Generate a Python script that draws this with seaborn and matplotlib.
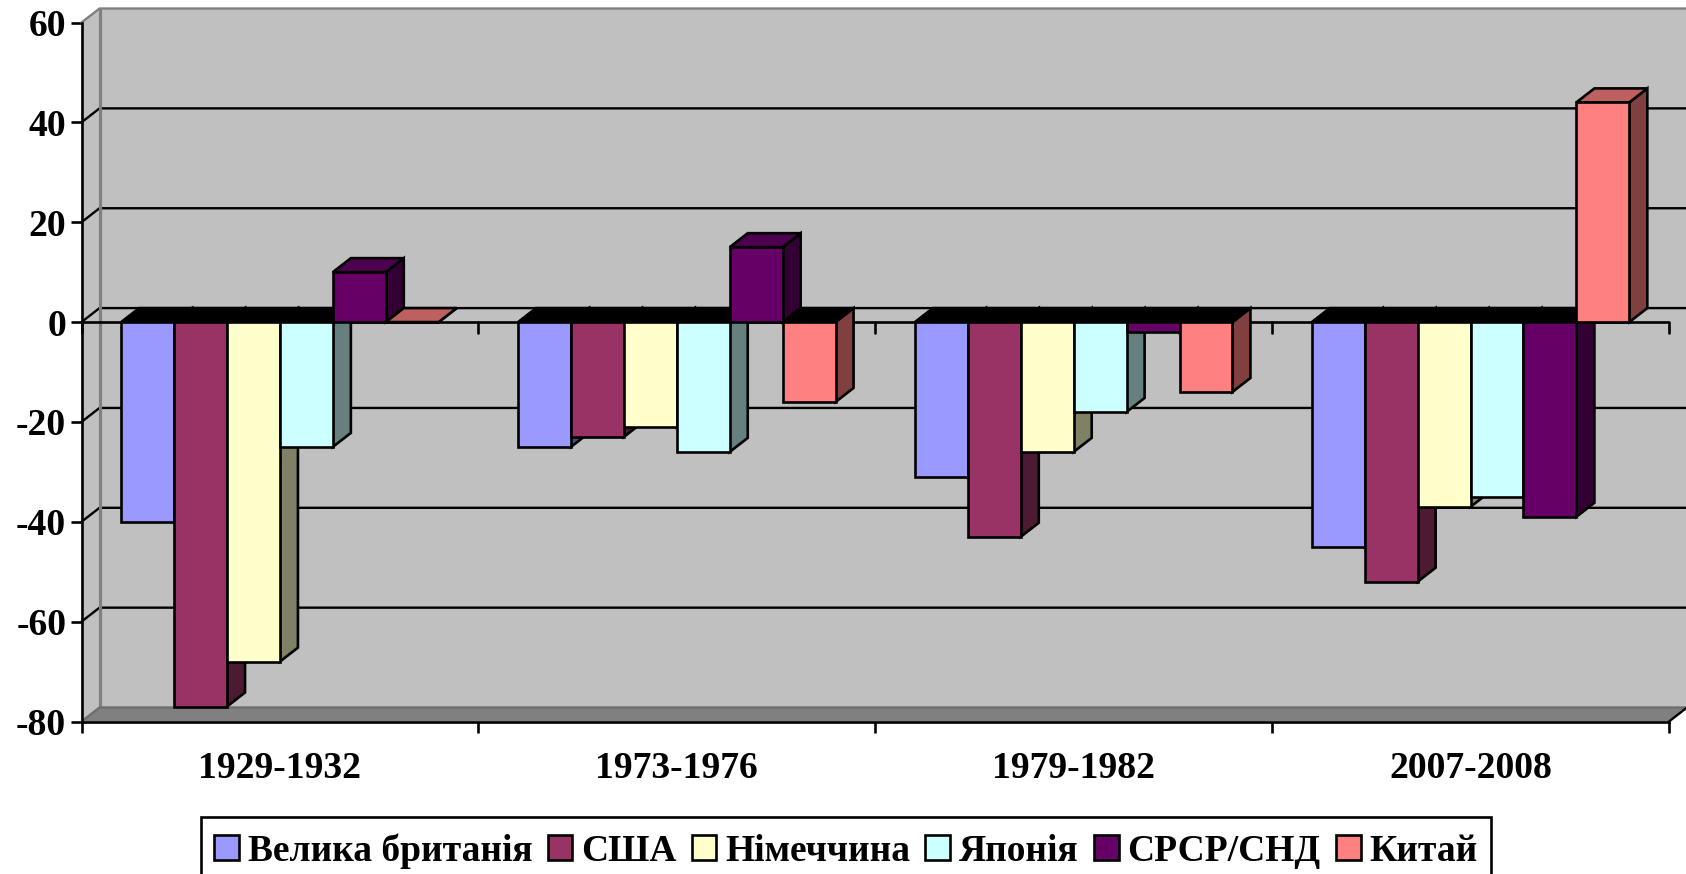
import matplotlib
matplotlib.use("Agg")
import matplotlib.pyplot as plt
import matplotlib.colors as mcolors
from matplotlib.patches import Polygon
from matplotlib.transforms import Affine2D
import pandas as pd
import seaborn as sns

periods = ['1929-1932', '1973-1976', '1979-1982', '2007-2008']
countries = ['Велика британія', 'США', 'Німеччина', 'Японія', 'СРСР/СНД', 'Китай']
uk = [-40, -25, -31, -45]
usa = [-77, -23, -43, -52]
germany = [-68, -21, -26, -37]
japan = [-25, -26, -18, -35]
ussr = [10, 15, -2, -39]
china = [0, -16, -14, 44]
colors = ['#9999FF', '#993366', '#FFFFCC', '#CCFFFF', '#660066', '#FF8080']
y_ticks = [-80, -60, -40, -20, 0, 20, 40, 60]
y_labels = ['-80', '-60', '-40', '-20', '0', '20', '40', '60']

DEPTH_X = 18 / 396.75
DEPTH_Y = 2.8
LW = 1.9
GRID_LW = 1.7
FONT = 27.1
LEGEND_FONT = 27.0
WALL = '#C0C0C0'
FLOOR = '#808080'
EDGE_GREY = '#808080'

sns.set_theme(style="white")
plt.rcParams['font.family'] = ['Liberation Serif']
plt.rcParams['font.weight'] = 'bold'
plt.rcParams['axes.unicode_minus'] = False


def shade(color, k):
    r, g, b = mcolors.to_rgb(color)
    return (r * k, g * k, b * k)


def desenhar_paredes(ax):
    x0, x1 = -0.5, 3.5
    y0, y1 = y_ticks[0], y_ticks[-1]
    d, h = DEPTH_X, DEPTH_Y
    back = Polygon([(x0 + d, y0 + h), (x1 + d, y0 + h), (x1 + d, y1 + h), (x0 + d, y1 + h)],
                   facecolor=WALL, edgecolor='none', zorder=0.5, clip_on=False)
    side = Polygon([(x0, y0), (x0 + d, y0 + h), (x0 + d, y1 + h), (x0, y1)],
                   facecolor=WALL, edgecolor='none', zorder=0.5, clip_on=False)
    floor = Polygon([(x0, y0), (x0 + d, y0 + h), (x1 + d, y0 + h), (x1, y0)],
                    facecolor=FLOOR, edgecolor='none', zorder=0.6, clip_on=False)
    for p in (back, side, floor):
        ax.add_patch(p)

    # grid on the back wall plus the diagonal on the side wall
    for v in y_ticks[1:-1]:
        ax.plot([x0, x0 + d, x1 + d], [v, v + h, v + h], color='black', lw=GRID_LW, zorder=1,
                clip_on=False, solid_joinstyle='miter')
    ax.plot([x0, x0 + d, x1 + d], [y1, y1 + h, y1 + h], color=EDGE_GREY, lw=GRID_LW, zorder=1, clip_on=False)
    ax.plot([x0 + d, x0 + d], [y0 + h, y1 + h], color=EDGE_GREY, lw=LW * 1.2, zorder=1, clip_on=False)
    ax.plot([x0, x0 + d, x1 + d], [y0, y0 + h, y0 + h], color='#6E6E6E', lw=GRID_LW, zorder=1, clip_on=False)
    ax.plot([x1, x1 + d], [y0, y0 + h], color='black', lw=GRID_LW, zorder=1, clip_on=False)

    # category axis at zero, with its own ticks
    ax.plot([x0, x1], [0, 0], color='black', lw=LW, zorder=1.5)
    for i in range(len(periods) + 1):
        ax.plot([x0 + i, x0 + i], [0, -2.2], color='black', lw=LW, zorder=1.5, clip_on=False)


def desenhar_volume(ax):
    d, h = DEPTH_X, DEPTH_Y
    bars = []
    for container, color in zip(ax.containers, colors):
        for patch in container.patches:
            bars.append((patch, color))
    bars.sort(key=lambda item: item[0].get_x())

    z = 3.0
    for patch, color in bars:
        x0 = patch.get_x()
        x1 = x0 + patch.get_width()
        v = patch.get_y() + patch.get_height()
        top_color = 'black' if v < 0 else shade(color, 0.75)
        top_y = max(v, 0)
        edge = dict(edgecolor='black', linewidth=LW, joinstyle='miter')
        ax.add_patch(Polygon([(x1, 0), (x1 + d, h), (x1 + d, v + h), (x1, v)],
                             facecolor=shade(color, 0.5), zorder=z, **edge))
        ax.add_patch(Polygon([(x0, top_y), (x0 + d, top_y + h), (x1 + d, top_y + h), (x1, top_y)],
                             facecolor=top_color, zorder=z + 0.01, **edge))
        patch.set_zorder(z + 0.02)
        patch.set_joinstyle('miter')
        z += 0.1


df = pd.DataFrame({
    'periodo': periods * len(countries),
    'pais': [c for c in countries for _ in periods],
    'valor': uk + usa + germany + japan + ussr + china,
})

fig = plt.figure(figsize=(16.86, 8.74), dpi=100, facecolor='white')
ax = fig.add_axes([81.5 / 1686, 1 - 721.5 / 874, (1669 - 81.5) / 1686, (721.5 - 22.5) / 874])

sns.barplot(data=df, x='periodo', y='valor', hue='pais', hue_order=countries, palette=colors,
            order=periods, width=0.8, gap=0, saturation=1, errorbar=None,
            edgecolor='black', linewidth=LW, ax=ax)

ax.set_xlim(-0.5, 3.5)
ax.set_ylim(y_ticks[0], y_ticks[-1])
desenhar_paredes(ax)
desenhar_volume(ax)

ax.set_xlabel('')
ax.set_ylabel('')
ax.set_yticks(y_ticks)
ax.set_yticklabels(y_labels, fontsize=FONT, fontweight='bold', color='black')
ax.set_xticks(range(len(periods)))
ax.set_xticklabels(periods, fontsize=FONT, fontweight='bold', color='black')
ax.set_xticks([i - 0.5 for i in range(len(periods) + 1)], minor=True)
ax.tick_params(axis='y', left=True, length=8, width=LW, pad=3, color='black')
ax.tick_params(axis='x', which='major', bottom=False, length=0, pad=21)
ax.tick_params(axis='x', which='minor', bottom=True, length=8, width=LW, color='black')

sns.despine(ax=ax, top=True, right=True)
for side_name in ('left', 'bottom'):
    ax.spines[side_name].set_color('black')
    ax.spines[side_name].set_linewidth(LW)
    ax.spines[side_name].set_zorder(2)

sns.move_legend(ax, 'upper left', bbox_to_anchor=(201 / 1686, 1 - 820 / 874),
                bbox_transform=fig.transFigure, ncol=6, title=None, frameon=True,
                fancybox=False, edgecolor='black', framealpha=1, borderaxespad=0,
                fontsize=LEGEND_FONT, handlelength=0.66, handleheight=0.64, handletextpad=0.24,
                columnspacing=0.40, borderpad=0.35)
leg = ax.get_legend()
leg.get_frame().set_linewidth(LW)
# the box sits a little higher than its contents
leg.get_frame().set_transform(Affine2D().translate(0, 3))
leg.set_zorder(10)
for handle in leg.legend_handles:
    handle.set_edgecolor('black')
    handle.set_linewidth(LW)
for text in leg.get_texts():
    text.set_fontweight('bold')
    text.set_color('black')

fig.savefig('out.png', dpi=100)
